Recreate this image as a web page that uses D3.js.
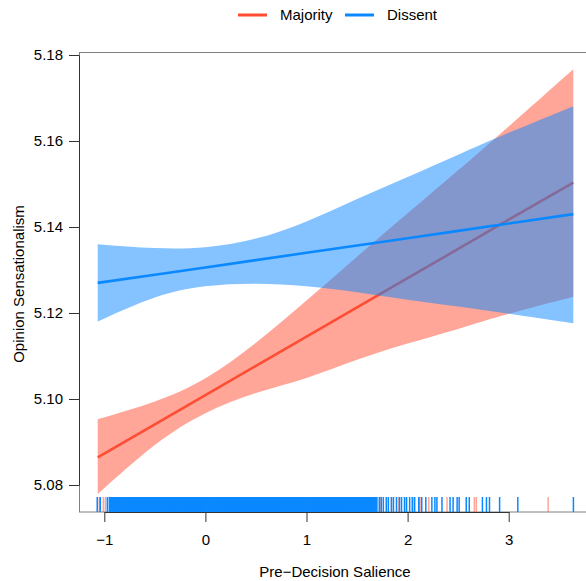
<!DOCTYPE html>
<html>
<head>
<meta charset="utf-8">
<script src="https://cdnjs.cloudflare.com/ajax/libs/d3/7.8.5/d3.min.js"></script>
<style>
    body { margin: 0; background: #fff; }
    svg text { font-family: "Liberation Sans", Arial, sans-serif; fill: #000; }
</style>
</head>
<body>
<script>

var salience = [-1.065, -0.5, 0, 0.5, 1, 1.5, 2, 2.5, 3, 3.639];

var majorityFit  = [5.0864, 5.0941, 5.1009, 5.1077, 5.1145, 5.1213, 5.1281, 5.1349, 5.1417, 5.1503];
var majorityLow  = [5.0779, 5.0893, 5.0967, 5.1014, 5.1049, 5.1091, 5.1129, 5.1163, 5.1198, 5.1238];
var majorityHigh = [5.0953, 5.0994, 5.1048, 5.1131, 5.1229, 5.1331, 5.1432, 5.1532, 5.1634, 5.1767];

var dissentFit  = [5.1270, 5.1289, 5.1306, 5.1323, 5.1340, 5.1357, 5.1374, 5.1391, 5.1408, 5.1430];
var dissentLow  = [5.1180, 5.1236, 5.1262, 5.1268, 5.1262, 5.1248, 5.1231, 5.1215, 5.1198, 5.1176];
var dissentHigh = [5.1360, 5.1351, 5.1353, 5.1373, 5.1413, 5.1465, 5.1516, 5.1568, 5.1619, 5.1681];

// rug (observed salience values)
var majorityRug = [-1.05, -1.01, -0.99, -0.6, 0.2, 1.1, 1.73, 1.79, 1.84, 1.91, 1.97, 2.04,
    2.12, 2.12, 2.21, 2.39, 2.66, 2.68, 3.39];
var dissentRug = [-1.07, -1.04, -0.97, -0.95,
    -0.93, -0.91, -0.89, -0.87, -0.85, -0.83, -0.81, -0.79, -0.77, -0.75,
    -0.73, -0.71, -0.69, -0.67, -0.65, -0.63, -0.61, -0.59, -0.57, -0.55,
    -0.53, -0.51, -0.49, -0.47, -0.45, -0.43, -0.41, -0.39, -0.37, -0.35,
    -0.33, -0.31, -0.29, -0.27, -0.25, -0.23, -0.21, -0.19, -0.17, -0.15,
    -0.13, -0.11, -0.09, -0.07, -0.05, -0.03, -0.01, 0.01, 0.03, 0.05,
    0.07, 0.09, 0.11, 0.13, 0.15, 0.17, 0.19, 0.21, 0.23, 0.25,
    0.27, 0.29, 0.31, 0.33, 0.35, 0.37, 0.39, 0.41, 0.43, 0.45,
    0.47, 0.49, 0.51, 0.53, 0.55, 0.57, 0.59, 0.61, 0.63, 0.65,
    0.67, 0.69, 0.71, 0.73, 0.75, 0.77, 0.79, 0.81, 0.83, 0.85,
    0.87, 0.89, 0.91, 0.93, 0.95, 0.97, 0.99, 1.01, 1.03, 1.05,
    1.07, 1.09, 1.11, 1.13, 1.15, 1.17, 1.19, 1.21, 1.23, 1.25,
    1.27, 1.29, 1.31, 1.33, 1.35, 1.37, 1.39, 1.41, 1.43, 1.45,
    1.47, 1.49, 1.51, 1.53, 1.55, 1.57, 1.59, 1.61, 1.63, 1.65,
    1.67, 1.69,
    1.72, 1.74, 1.76, 1.79, 1.81, 1.84, 1.86, 1.89, 1.92, 1.94, 1.97, 1.99, 2.02, 2.05, 2.07, 2.11,
    2.14, 2.18, 2.24, 2.27, 2.29, 2.34, 2.42, 2.45, 2.49, 2.51,
    2.58, 2.61, 2.74, 2.78, 2.81, 2.91, 3.09, 3.64];

var xTicks = [-1, 0, 1, 2, 3];
var yTicks = [5.08, 5.10, 5.12, 5.14, 5.16, 5.18];
var groupNames = ["Majority", "Dissent"];
var groupColors = ["#FF4D33", "#0A88FF"];

d3.select(window).on('load', init);

function init() {

    var w = 586;
    var h = 581;
    var fontSize = 15;

    var svg = d3.select('body')
        .append('svg')
        .attr("width", w)
        .attr("height", h);

    var xScale = d3.scaleLinear()
        .domain([-1, 3])
        .range([104.3, 508.7]);

    var yScale = d3.scaleLinear()
        .domain([5.08, 5.18])
        .range([485, 55]);

    // grey frame round the panel
    svg.append("rect")
        .attr("x", 79.5)
        .attr("y", 52.5)
        .attr("width", 520)
        .attr("height", 459.5)
        .attr("fill", "none")
        .attr("stroke", "#808080")
        .attr("stroke-width", 1);

    var groups = [
        {name: groupNames[0], color: groupColors[0], fit: majorityFit, low: majorityLow, high: majorityHigh},
        {name: groupNames[1], color: groupColors[1], fit: dissentFit, low: dissentLow, high: dissentHigh}
    ];

    var area = d3.area()
        .x(function(d){ return xScale(d.x); })
        .y0(function(d){ return yScale(d.lo); })
        .y1(function(d){ return yScale(d.hi); })
        .curve(d3.curveNatural);

    var line = d3.line()
        .x(function(d){ return xScale(d.x); })
        .y(function(d){ return yScale(d.y); });

    groups.forEach(function(g) {
        var pts = salience.map(function(x, i) {
            return {x: x, y: g.fit[i], lo: g.low[i], hi: g.high[i]};
        });

        svg.append("path")
            .datum(pts)
            .attr("d", area)
            .attr("fill", g.color)
            .attr("fill-opacity", 0.5)
            .attr("stroke", "none");

        svg.append("path")
            .datum(pts)
            .attr("d", line)
            .attr("fill", "none")
            .attr("stroke", g.color)
            .attr("stroke-width", 2.6);
    });

    // rug
    var rugTop = 497;
    var rugBottom = 512;

    svg.append("g")
        .selectAll("line")
        .data(majorityRug)
        .enter()
        .append("line")
        .attr("x1", function(d){ return xScale(d); })
        .attr("x2", function(d){ return xScale(d); })
        .attr("y1", rugTop)
        .attr("y2", rugBottom)
        .attr("stroke", groupColors[0])
        .attr("stroke-opacity", 0.5)
        .attr("stroke-width", 1.5);

    svg.append("g")
        .selectAll("line")
        .data(dissentRug)
        .enter()
        .append("line")
        .attr("x1", function(d){ return xScale(d); })
        .attr("x2", function(d){ return xScale(d); })
        .attr("y1", rugTop)
        .attr("y2", rugBottom)
        .attr("stroke", groupColors[1])
        .attr("stroke-width", function(d){ return (d > -0.94 && d < 1.7) ? 2.8 : 1.5; });

    var xAxis = d3.axisBottom()
        .scale(xScale)
        .tickValues(xTicks)
        .tickSizeInner(10)
        .tickSizeOuter(0)
        .tickPadding(12)
        .tickFormat(d3.format("d"));

    var yAxis = d3.axisLeft()
        .scale(yScale)
        .tickValues(yTicks)
        .tickSizeInner(10)
        .tickSizeOuter(0)
        .tickPadding(6)
        .tickFormat(d3.format(".2f"));

    var gx = svg.append("g")
        .attr("transform", "translate(0,512)")
        .call(xAxis);

    var gy = svg.append("g")
        .attr("transform", "translate(79,0)")
        .call(yAxis);

    [gx, gy].forEach(function(g) {
        g.select(".domain").attr("stroke", "#333");
        g.selectAll(".tick line").attr("stroke", "#333");
        g.selectAll(".tick text")
            .attr("font-size", fontSize)
            .attr("font-family", '"Liberation Sans", Arial, sans-serif')
            .attr("fill", "#000");
    });

    // axis titles
    svg.append("text")
        .attr("x", 335)
        .attr("y", 577)
        .attr("text-anchor", "middle")
        .attr("font-size", fontSize)
        .text("Pre\u2212Decision Salience");

    svg.append("text")
        .attr("transform", "translate(24,284) rotate(-90)")
        .attr("text-anchor", "middle")
        .attr("font-size", fontSize)
        .text("Opinion Sensationalism");

    // legend
    var legendX = [238, 345];
    var legend = svg.selectAll(".legend")
        .data(groups)
        .enter()
        .append("g")
        .attr("class", "legend")
        .attr("transform", function(d, i){ return "translate(" + legendX[i] + ",15)"; });

    legend.append("line")
        .attr("x1", 0)
        .attr("x2", 29)
        .attr("y1", 0)
        .attr("y2", 0)
        .attr("stroke", function(d){ return d.color; })
        .attr("stroke-width", 3);

    legend.append("text")
        .attr("x", 42)
        .attr("y", 5)
        .attr("font-size", fontSize)
        .text(function(d){ return d.name; });
}

</script>
</body>
</html>
